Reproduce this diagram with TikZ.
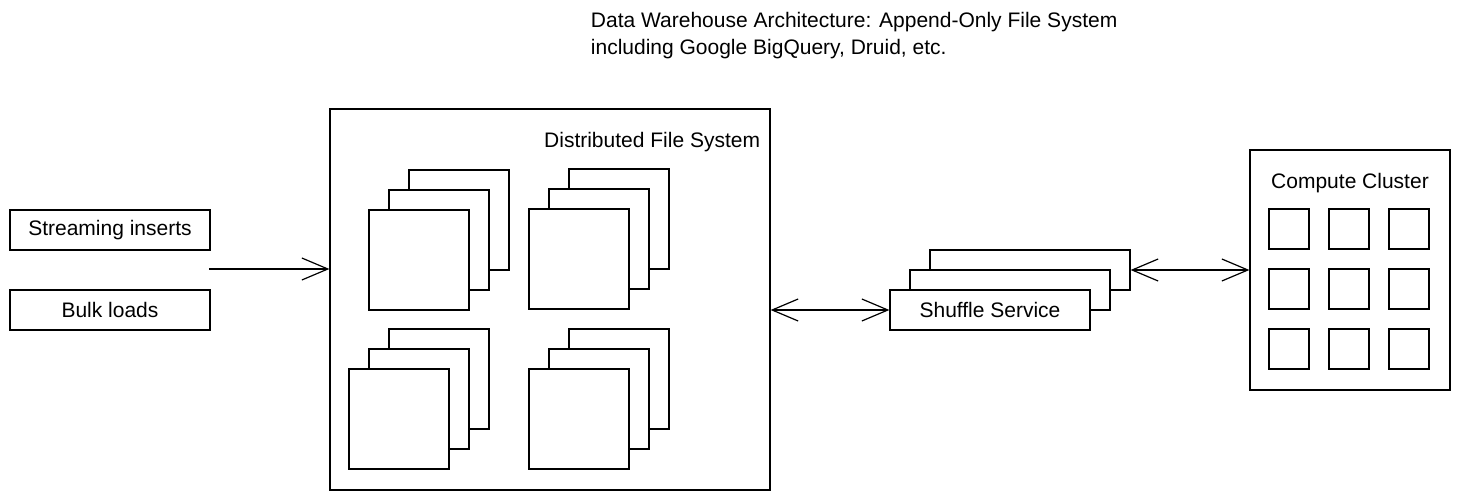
\documentclass[tikz,border=0pt]{standalone}
\usepackage{fontspec}
\setmainfont{Liberation Sans}
\usetikzlibrary{arrows.meta}

\begin{document}
\begin{tikzpicture}[x=1pt,y=-1pt,line width=1.2pt,
  font=\fontsize{21}{27}\selectfont,
  box/.style={draw,fill=white,inner sep=0pt},
  sheet/.style={box,minimum size=100pt},
  cell/.style={box,minimum size=40pt},
  wide/.style={box,minimum width=200pt,minimum height=40pt},
  feed/.style={-{Straight Barb[length=26pt,width=22pt]}},
  link/.style={{Straight Barb[length=26pt,width=22pt]}-{Straight Barb[length=26pt,width=22pt]}}]
\useasboundingbox (0,0) rectangle (1460,500);

\node [anchor=north west,align=left] (title) at (587,8)
  {Data Warehouse Architecture: Append-Only File System\\including Google BigQuery, Druid, etc.};

% inputs
\node [wide] (si) at (110,230) {Streaming inserts};
\node [wide] (bl) at (110,310) {Bulk loads};
\coordinate (src) at (209,269);

% distributed file system
\node [box,minimum width=440pt,minimum height=381pt] (fs) at (550,299.5) {};
\node [anchor=east] (fsl) at (764,142) {Distributed File System};
\foreach \x/\y/\n in {369/210/a, 529/209/b, 349/369/c, 529/369/d}
  \foreach \k in {2,1,0}
    \node [sheet] (\n\k) at (\x+50+20*\k,\y+50-20*\k) {};

% shuffle service
\node [wide] (ss2) at (1030,270) {};
\node [wide] (ss1) at (1010,290) {};
\node [wide] (ss) at (990,310) {Shuffle Service};

% compute cluster
\node [box,minimum width=200pt,minimum height=240pt] (cc) at (1350,270) {};
\node (ccl) at (1350,183) {Compute Cluster};
\foreach \r/\y in {1/229,2/289,3/349}
  \foreach \c/\x in {1/1289,2/1349,3/1409}
    \node [cell] (w\r\c) at (\x,\y) {};

\draw [feed] (src) -- (src -| fs.west);
\draw [link] (fs.east |- ss.west) -- (ss.west);
\draw [link] (ss2.east) -- (ss2.east -| cc.west);
\end{tikzpicture}
\end{document}
